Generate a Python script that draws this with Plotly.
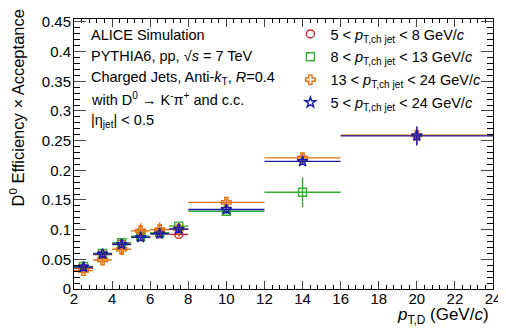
import plotly.graph_objects as go

# bin centres and half-widths in p_T,D (GeV/c)
x_center = [2.5, 3.5, 4.5, 5.5, 6.5, 7.5, 10, 14, 20]
x_half = [0.5, 0.5, 0.5, 0.5, 0.5, 0.5, 2, 2, 4]

# 5 < pT,ch jet < 8
red_y = [0.035, 0.058, 0.076, 0.088, 0.093, 0.092]
red_err = [0.003, 0.003, 0.003, 0.004, 0.004, 0.004]
# 8 < pT,ch jet < 13
green_y = [0.038, 0.060, 0.078, 0.089, 0.095, 0.106, 0.131, 0.163]
green_err = [0.003, 0.003, 0.004, 0.004, 0.005, 0.005, 0.005, 0.025]
# 13 < pT,ch jet < 24
orange_y = [0.031, 0.049, 0.067, 0.098, 0.100, 0.101, 0.146, 0.221, 0.259]
orange_err = [0.005, 0.006, 0.010, 0.013, 0.012, 0.010, 0.006, 0.008, 0.015]
# 5 < pT,ch jet < 24
blue_y = [0.037, 0.059, 0.075, 0.087, 0.093, 0.101, 0.134, 0.215, 0.258]
blue_err = [0.003, 0.003, 0.003, 0.003, 0.004, 0.004, 0.004, 0.005, 0.016]

series = [
    ("5 &lt; <i>p</i><sub>T,ch jet</sub> &lt; 8 GeV/<i>c</i>", red_y, red_err, "#c8282a", "circle-open"),
    ("8 &lt; <i>p</i><sub>T,ch jet</sub> &lt; 13 GeV/<i>c</i>", green_y, green_err, "#2fb02f", "square-open"),
    ("13 &lt; <i>p</i><sub>T,ch jet</sub> &lt; 24 GeV/<i>c</i>", orange_y, orange_err, "#e0700a", "cross-open"),
    ("5 &lt; <i>p</i><sub>T,ch jet</sub> &lt; 24 GeV/<i>c</i>", blue_y, blue_err, "#1c1ca8", "star-open"),
]

FONT = "Liberation Sans, Arial, sans-serif"

fig = go.Figure()
for i, (name, yv, ye, col, sym) in enumerate(series):
    n = len(yv)
    fig.add_trace(go.Scatter(
        x=x_center[:n], y=yv, name=name, mode="markers", legendgroup=f"g{i}",
        marker=dict(symbol=sym, size=8, color=col, line=dict(width=1.4, color=col)),
        error_x=dict(type="data", array=x_half[:n], width=0, thickness=1.4, color=col),
        error_y=dict(type="data", array=ye, width=0, thickness=1.4, color=col),
    ))

axis_common = dict(
    ticks="inside", mirror="allticks", showline=True, linecolor="black", linewidth=1,
    showgrid=False, zeroline=False, tickfont=dict(size=15, color="black", family=FONT),
    ticklabeloverflow="allow",
)
fig.update_xaxes(range=[2, 24], dtick=2, tick0=0, ticklen=8, tickwidth=1,
                 ticklabelstandoff=-4,
                 minor=dict(dtick=0.4, tick0=2, ticklen=4, ticks="inside", tickwidth=1, tickcolor="black"),
                 **axis_common)
fig.update_yaxes(range=[0, 0.455], dtick=0.05, tick0=0, ticklen=12, tickwidth=1,
                 ticklabelstandoff=-1,
                 minor=dict(dtick=0.01, tick0=0, ticklen=6, ticks="inside", tickwidth=1, tickcolor="black"),
                 **axis_common)

# page body has an 8px margin: plot area in screen px is x 74..498, y 13..289
def py(ypx):
    return (289 - ypx) / 276.0

def px(xpx):
    return (xpx - 74) / 424.0

lines = [
    ("ALICE Simulation", 29),
    ("PYTHIA6, pp, √<i>s</i> = 7 TeV", 51),
    ("Charged Jets, Anti-<i>k</i><sub>T</sub>, <i>R</i>=0.4", 73),
    ("with D<sup>0</sup> → K<sup>-</sup>π<sup>+</sup> and c.c.", 95),
    ("|η<sub>jet</sub>| &lt; 0.5", 117),
]
anns = []
for t, ypx in lines:
    anns.append(dict(text=t, x=px(89), y=py(ypx), xref="paper", yref="paper",
                     xanchor="left", yanchor="middle", showarrow=False,
                     font=dict(size=14.5, color="black", family=FONT)))
anns.append(dict(text="D<sup>0</sup> Efficiency × Acceptance", textangle=-90,
                 x=px(16), y=py(1), xref="paper", yref="paper",
                 xanchor="center", yanchor="top", showarrow=False,
                 font=dict(size=16.5, color="black", family=FONT)))
anns.append(dict(text="<i>p</i><sub>T,D</sub> (GeV/<i>c</i>)",
                 x=px(496), y=py(317), xref="paper", yref="paper",
                 xanchor="right", yanchor="middle", showarrow=False,
                 font=dict(size=17, color="black", family=FONT)))

fig.update_layout(
    width=498, height=328,
    margin=dict(l=66, r=8, t=5, b=47),
    paper_bgcolor="white", plot_bgcolor="white",
    font=dict(family=FONT, color="black"),
    annotations=anns,
    legend=dict(x=px(293), y=py(12), xanchor="left", yanchor="top",
                bgcolor="rgba(0,0,0,0)", font=dict(size=14.5, family=FONT, color="black"),
                tracegroupgap=1, itemsizing="trace"),
    showlegend=True,
)

fig.write_html("out.html")
